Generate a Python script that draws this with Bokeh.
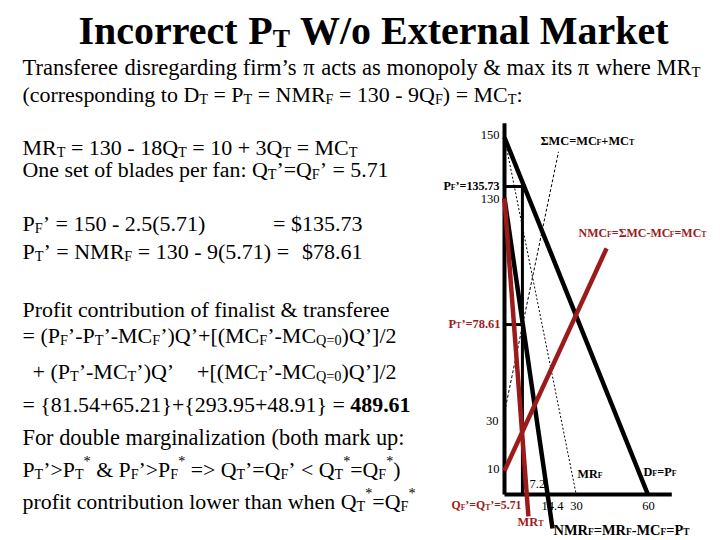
import re
from bokeh.plotting import figure
from bokeh.models import Label, Range1d
from bokeh.embed import file_html
from bokeh.resources import INLINE

# ---------------- chart data (Q, P), as drawn in the sketch ----------------
AXIS_Q = [0, 70]          # horizontal axis extent
AXIS_P = [0, 156]         # vertical axis extent
DF_Q = [0, 60];     DF_P = [150, 0]        # D_F = P_F
MRF_Q = [0, 30];    MRF_P = [150, 0]       # MR_F
SMC_Q = [0, 22.6];  SMC_P = [34.5, 144]    # ΣMC = MC_F + MC_T
NMRF_Q = [0, 20.1]; NMRF_P = [124.4, -14.3]  # NMR_F = MR_F - MC_F = P_T
MRT_Q = [0, 10.0];  MRT_P = [124.4, -9.2]  # MR_T
NMCF_Q = [0, 42.7]; NMCF_P = [10, 103.4]   # NMC_F = MC_T
Q_OPT = 7.5      # Q' (drawn)
PF_OPT = 129.4   # P_F' (drawn)
PT_OPT = 71.4    # P_T' (drawn)

RED = "#9b1b1b"
FONT = "Liberation Serif"

# ---------------- page geometry ----------------
W, H = 720, 540
OX, OY = 504, 494      # pixel of chart origin
SX, SY = 2.39, 2.38    # pixels per unit

def dq(px):
    return (px - OX) / SX

def dp(py):
    return (OY - py) / SY

p = figure(width=W, height=H, x_range=Range1d(dq(0), dq(W)),
           y_range=Range1d(dp(H), dp(0)), min_border=0,
           toolbar_location=None, output_backend="svg",
           x_axis_location=None, y_axis_location=None)
p.grid.visible = False
p.outline_line_color = None
p.background_fill_color = "white"
p.border_fill_color = "white"

# ---------------- chart lines ----------------
p.line(AXIS_Q, [0, 0], line_color="black", line_width=4)
p.line([0, 0], AXIS_P, line_color="black", line_width=4)
p.line(MRF_Q, MRF_P, line_color="black", line_width=1, line_dash="2 2")
p.line(SMC_Q, SMC_P, line_color="black", line_width=1, line_dash="3 2")
p.line(DF_Q, DF_P, line_color="black", line_width=4.5)
p.line(NMRF_Q, NMRF_P, line_color="black", line_width=4.5)
p.line([Q_OPT, Q_OPT], [0, PF_OPT], line_color="black", line_width=3)
p.line([0, Q_OPT], [PF_OPT, PF_OPT], line_color="black", line_width=3)
p.line([0, Q_OPT], [PT_OPT, PT_OPT], line_color="black", line_width=3)
p.line(MRT_Q, MRT_P, line_color=RED, line_width=4.5)
p.line(NMCF_Q, NMCF_P, line_color=RED, line_width=4.5)

# ---------------- rich text helper ----------------
def _tab(keys, vals):
    return dict(zip(keys, vals))

RW = {}
RW.update(_tab(" !\"#$%&'()*+,-./", [250, 333, 408, 500, 500, 833, 778, 180, 333, 333, 500, 564, 250, 333, 250, 278]))
RW.update({d: 500 for d in "0123456789"})
RW.update(_tab(":;<=>?", [278, 278, 564, 564, 564, 444]))
RW.update(_tab("ABCDEFGHIJKLMNOPQRSTUVWXYZ", [722, 667, 667, 722, 611, 556, 722, 722, 333, 389, 722, 611, 889, 722, 722, 556, 722, 667, 556, 611, 722, 722, 944, 722, 722, 611]))
RW.update(_tab("abcdefghijklmnopqrstuvwxyz", [444, 500, 444, 500, 444, 333, 500, 500, 278, 278, 500, 278, 778, 500, 500, 500, 500, 333, 389, 278, 500, 500, 722, 500, 500, 444]))
RW.update({"[": 333, "]": 333, "{": 480, "}": 480, "\u2019": 333, "\u03c0": 549, "\u03a3": 600})

BW = {}
BW.update(_tab(" !\"#$%&'()*+,-./", [250, 333, 555, 500, 500, 1000, 833, 278, 333, 333, 500, 570, 250, 333, 250, 278]))
BW.update({d: 500 for d in "0123456789"})
BW.update(_tab(":;<=>?", [333, 333, 570, 570, 570, 500]))
BW.update(_tab("ABCDEFGHIJKLMNOPQRSTUVWXYZ", [722, 667, 722, 722, 667, 611, 778, 778, 389, 500, 778, 667, 944, 722, 778, 611, 778, 722, 556, 667, 722, 722, 1000, 722, 722, 667]))
BW.update(_tab("abcdefghijklmnopqrstuvwxyz", [500, 556, 444, 556, 444, 333, 500, 556, 278, 333, 556, 278, 833, 556, 500, 556, 556, 444, 389, 333, 556, 500, 722, 500, 500, 444]))
BW.update({"[": 333, "]": 333, "{": 394, "}": 394, "\u2019": 333, "\u03c0": 549, "\u03a3": 600})

SUB = 0.65

def _em(txt, bold):
    t = BW if bold else RW
    return sum(t.get(c, 500) for c in txt) / 1000.0

def _parse(markup, bold):
    segs, kind, buf = [], "", ""
    for ch in markup:
        if ch in "\u2039\u203a\u00ab\u00bb\u00a7":
            if buf:
                segs.append((buf, kind, bold))
                buf = ""
            if ch == "\u2039":
                kind = "sub"
            elif ch == "\u00ab":
                kind = "sup"
            elif ch in "\u203a\u00bb":
                kind = ""
            else:
                bold = not bold
        else:
            buf += ch
    if buf:
        segs.append((buf, kind, bold))
    return segs

def rich(x, base, markup, size=None, target=None, anchor="left",
         color="black", bold=False):
    segs = _parse(markup, bold)
    total = sum(_em(t, b) * (SUB if k else 1.0) for t, k, b in segs)
    if target is not None:
        size = target / total
    width = total * size
    if anchor == "left":
        cur = x
    elif anchor == "right":
        cur = x - width
    else:
        cur = x - width / 2
    for txt, kind, b in segs:
        fs = size * (SUB if kind else 1.0)
        dy = 0.2 * size if kind == "sub" else (-0.38 * size if kind == "sup" else 0.0)
        for m in re.finditer(r"\S+|\s+", txt):
            w = m.group(0)
            ww = _em(w, b) * fs
            if not w.isspace():
                p.add_layout(Label(x=dq(cur), y=dp(base + dy), text=w,
                                   text_font=FONT, text_font_size=f"{fs:.2f}px",
                                   text_font_style="bold" if b else "normal",
                                   text_color=color, text_baseline="alphabetic",
                                   text_align="left"))
            cur += ww
    return size

# ---------------- slide text ----------------
rich(78, 30, "Incorrect P\u2039T\u203a W/o External Market", target=590, bold=True)
rich(22, 67, "Transferee disregarding firm\u2019s \u03c0 acts as monopoly & max its \u03c0 where MR\u2039T\u203a", target=678)
rich(22, 94, "(corresponding to D\u2039T\u203a = P\u2039T\u203a = NMR\u2039F\u203a = 130 - 9Q\u2039F\u203a) = MC\u2039T\u203a:", target=500)

rich(22, 147, "MR\u2039T\u203a = 130 - 18Q\u2039T\u203a = 10 + 3Q\u2039T\u203a = MC\u2039T\u203a", target=335)
rich(22, 169, "One set of blades per fan: Q\u2039T\u203a\u2019=Q\u2039F\u203a\u2019 = 5.71", target=366)
rich(22, 223, "P\u2039F\u203a\u2019 = 150 - 2.5(5.71)", size=22)
rich(362, 223, "= $135.73", size=22, anchor="right")
rich(22, 251, "P\u2039T\u203a\u2019 = NMR\u2039F\u203a = 130 - 9(5.71) =", size=22)
rich(362, 251, "$78.61", size=22, anchor="right")

rich(22, 309, "Profit contribution of finalist & transferee", target=367)
rich(22, 335, "= (P\u2039F\u203a\u2019-P\u2039T\u203a\u2019-MC\u2039F\u203a\u2019)Q\u2019+[(MC\u2039F\u203a\u2019-MC\u2039Q=0\u203a)Q\u2019]/2", target=374)
rich(32, 371, "+ (P\u2039T\u203a\u2019-MC\u2039T\u203a\u2019)Q\u2019", size=22)
rich(396, 371, "+[(MC\u2039T\u203a\u2019-MC\u2039Q=0\u203a)Q\u2019]/2", size=22, anchor="right")
rich(22, 404, "= {81.54+65.21}+{293.95+48.91} = \u00a7489.61\u00a7", target=388)
rich(22, 437, "For double marginalization (both mark up:", target=382)
rich(22, 469, "P\u2039T\u203a\u2019>P\u2039T\u203a\u00ab*\u00bb & P\u2039F\u203a\u2019>P\u2039F\u203a\u00ab*\u00bb => Q\u2039T\u203a\u2019=Q\u2039F\u203a\u2019 < Q\u2039T\u203a\u00ab*\u00bb=Q\u2039F\u203a\u00ab*\u00bb)", target=378)
rich(22, 501, "profit contribution lower than when Q\u2039T\u203a\u00ab*\u00bb=Q\u2039F\u203a\u00ab*\u00bb", target=393)

# ---------------- chart labels ----------------
rich(499, 134, "150", size=12.5, anchor="right")
rich(540, 140, "\u03a3MC=MC\u2039F\u203a+MC\u2039T\u203a", target=94, bold=True)
rich(499, 185, "P\u2039F\u203a\u2019=135.73", target=56, bold=True, anchor="right")
rich(499, 198, "130", size=12.5, anchor="right")
rich(578, 232, "NMC\u2039F\u203a=\u03a3MC-MC\u2039F\u203a=MC\u2039T\u203a", target=128, bold=True, color=RED)
rich(500, 323, "P\u2039T\u203a\u2019=78.61", target=52, bold=True, color=RED, anchor="right")
rich(498, 420, "30", size=12.5, anchor="right")
rich(499, 468, "10", size=12.5, anchor="right")
rich(577, 473, "MR\u2039F\u203a", target=25, bold=True)
rich(643, 471, "D\u2039F\u203a=P\u2039F\u203a", target=33, bold=True)
rich(529, 483, "7.2", size=12.5)
rich(521, 505, "Q\u2039F\u203a\u2019=Q\u2039T\u203a\u2019=5.71", target=70, bold=True, color=RED, anchor="right")
rich(541, 505, "14.4", size=12.5)
rich(576, 505, "30", size=12.5, anchor="center")
rich(648, 505, "60", size=12.5, anchor="center")
rich(517, 521, "MR\u2039T\u203a", target=26, bold=True, color=RED)
rich(553, 529, "NMR\u2039F\u203a=MR\u2039F\u203a-MC\u2039F\u203a=P\u2039T\u203a", target=136, bold=True)

open("out.html", "w").write(file_html(p, INLINE))
